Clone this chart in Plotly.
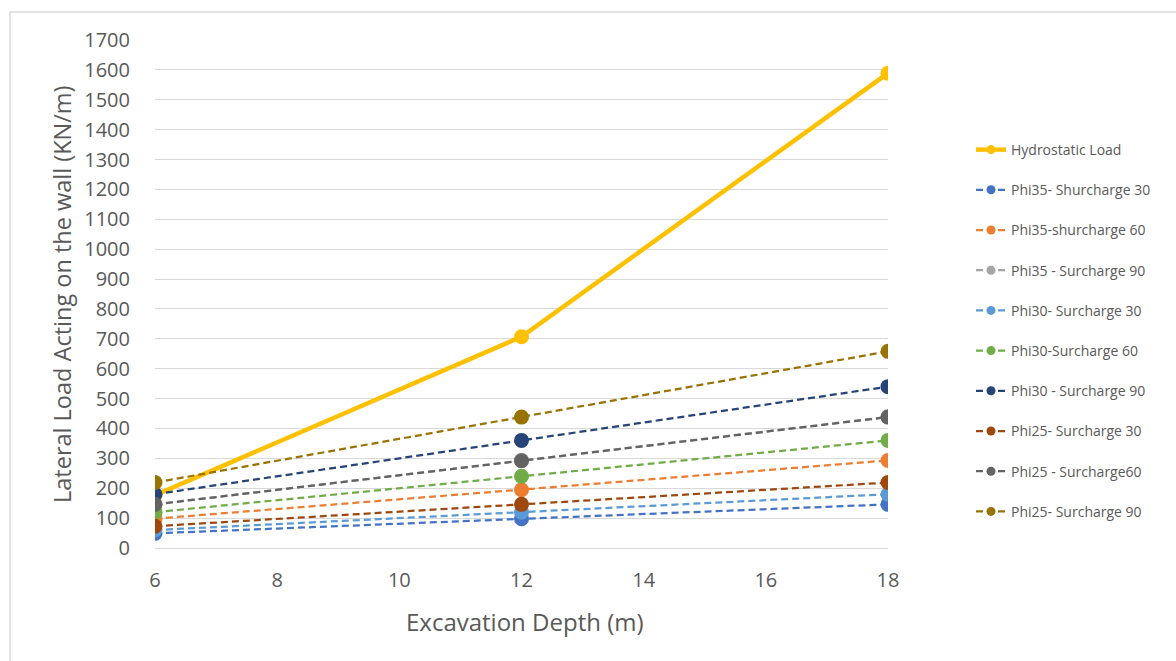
import plotly.graph_objects as go

# Excavation depths (m)
depth = [6, 12, 18]

# Lateral loads acting on the wall (kN/m)
hydrostatic = [177, 707, 1589]
phi35_s30 = [49, 98, 146]
phi35_s60 = [98, 195, 293]
phi35_s90 = [146, 293, 439]
phi30_s30 = [60, 120, 180]
phi30_s60 = [120, 240, 360]
phi30_s90 = [180, 360, 540]
phi25_s30 = [73, 146, 219]
phi25_s60 = [146, 292, 438]
phi25_s90 = [219, 438, 658]

series_names = [
    "Phi35- Shurcharge 30",
    "Phi35-shurcharge 60",
    "Phi35 - Surcharge 90",
    "Phi30- Surcharge 30",
    "Phi30-Surcharge 60",
    "Phi30 - Surcharge 90",
    "Phi25- Surcharge 30",
    "Phi25 - Surcharge60",
    "Phi25- Surcharge 90",
]
series_values = [
    phi35_s30, phi35_s60, phi35_s90,
    phi30_s30, phi30_s60, phi30_s90,
    phi25_s30, phi25_s60, phi25_s90,
]
series_colors = [
    "#4472C4", "#ED7D31", "#A5A5A5",
    "#5B9BD5", "#70AD47", "#264478",
    "#9E480E", "#636363", "#997300",
]

FONT = "Open Sans"
TEXT_GRAY = "#595959"
GRID = "#D9D9D9"

# plot area in pixels, used to place the titles in paper units
L, R, T, B = 155, 888, 40, 548
W, H = R - L, B - T

fig = go.Figure()


def add_series(name, vals, col, width, dash, group):
    # line + small marker for the legend entry
    fig.add_trace(go.Scatter(
        x=depth, y=vals, name=name,
        mode="lines+markers",
        line=dict(color=col, width=width, dash=dash),
        marker=dict(color=col, size=9),
        legendgroup=group,
        hoverinfo="skip",
    ))
    # full-size point markers
    fig.add_trace(go.Scatter(
        x=depth, y=vals, name=name,
        mode="markers",
        marker=dict(color=col, size=15),
        legendgroup=group,
        showlegend=False,
    ))


add_series("Hydrostatic Load", hydrostatic, "#FFC000", 4.5, "solid", "g0")
for i, (name, vals, col) in enumerate(zip(series_names, series_values, series_colors)):
    add_series(name, vals, col, 2.25, "7px,4px", f"g{i + 1}")

fig.update_layout(
    width=1176, height=661,
    margin=dict(l=L, r=1176 - R, t=T, b=661 - B),
    paper_bgcolor="white",
    plot_bgcolor="white",
    font=dict(family=FONT, color=TEXT_GRAY),
    showlegend=True,
    legend=dict(
        x=(971 - L) / W, xanchor="left",
        y=(B - 134) / H, yanchor="top",
        font=dict(family=FONT, size=14, color=TEXT_GRAY),
        tracegroupgap=19,
        bgcolor="rgba(0,0,0,0)",
    ),
    xaxis=dict(
        range=[6, 18],
        tickmode="array",
        tickvals=[6, 8, 10, 12, 14, 16, 18],
        showgrid=False,
        zeroline=False,
        showline=False,
        ticks="outside", ticklen=14, tickcolor="rgba(0,0,0,0)",
        tickfont=dict(family=FONT, size=20, color=TEXT_GRAY),
    ),
    yaxis=dict(
        range=[0, 1700],
        tickmode="array",
        tickvals=list(range(0, 1701, 100)),
        showgrid=True, gridcolor=GRID, gridwidth=1,
        zeroline=True, zerolinecolor=GRID, zerolinewidth=1,
        showline=False,
        ticks="outside", ticklen=20, tickcolor="rgba(0,0,0,0)",
        tickfont=dict(family=FONT, size=20, color=TEXT_GRAY),
    ),
    annotations=[
        dict(
            text="Excavation Depth (m)", showarrow=False,
            xref="paper", yref="paper",
            x=(525 - L) / W, y=(B - 621) / H,
            xanchor="center", yanchor="middle",
            font=dict(family=FONT, size=24, color=TEXT_GRAY),
        ),
        dict(
            text="Lateral Load Acting on the wall (KN/m)", showarrow=False,
            xref="paper", yref="paper", textangle=-90,
            x=(62 - L) / W, y=(B - 294) / H,
            xanchor="center", yanchor="middle",
            font=dict(family=FONT, size=23.5, color=TEXT_GRAY),
        ),
    ],
    shapes=[dict(
        type="rect", xref="paper", yref="paper",
        x0=(10 - L) / W, x1=1.6,
        y0=-0.5, y1=(B - 12) / H,
        line=dict(color=GRID, width=1.5),
        fillcolor="rgba(0,0,0,0)",
        layer="below",
    )],
)

fig.write_html("out.html")
